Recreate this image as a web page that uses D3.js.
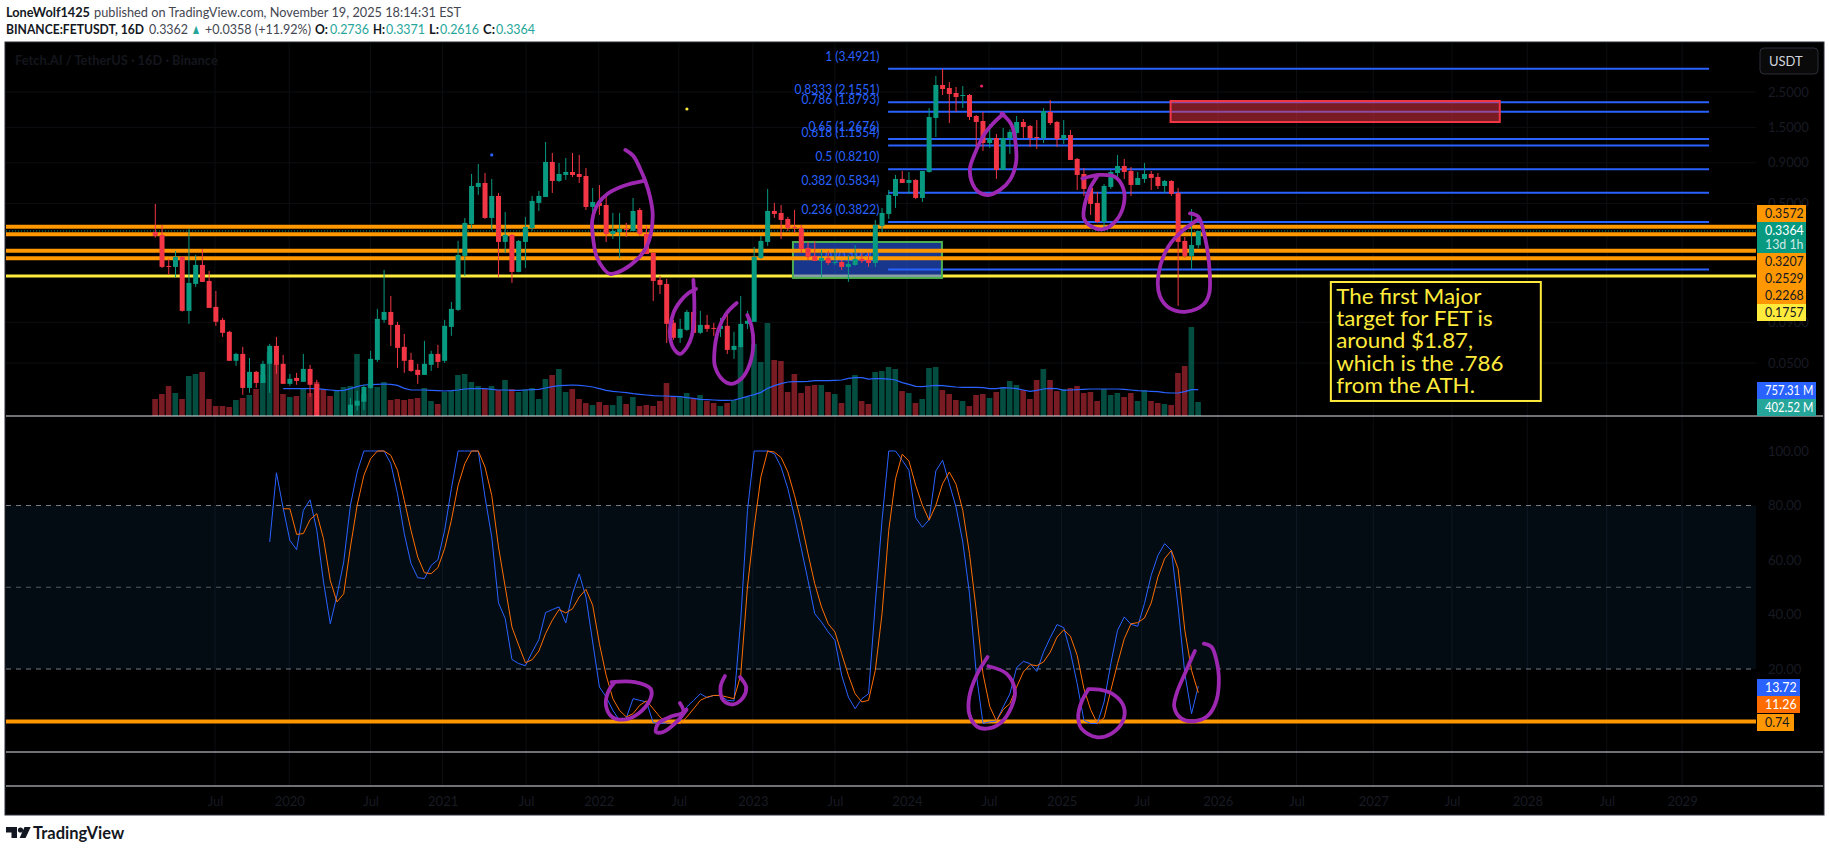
<!DOCTYPE html>
<html>
<head>
<meta charset="utf-8">
<title>FETUSDT 16D</title>
<script src="https://cdn.jsdelivr.net/npm/d3@7"></script>
<style>
  html, body { margin: 0; padding: 0; background: #fff; overflow: hidden; }
  svg { display: block; font-family: Lato, "Open Sans", sans-serif; }
</style>
</head>
<body>
<div id="chart"></div>
<script>
// candles, one row per ten bars
const opens = [
  .3316,.3176,.2030,.2001,.2312,.1061,.1566,.2060,.1635,.1124,
  .0932,.0784,.0516,.0570,.0349,.0440,.0375,.0494,.0640,.0494,
  .0370,.0403,.0381,.0459,.0370,.0228,.0205,.0160,.0175,.0215,
  .0270,.0286,.0349,.0523,.0932,.1045,.0867,.0631,.0523,.0453,
  .0421,.0487,.0570,.0516,.0842,.1076,.2346,.3722,.6348,.6726,
  .4059,.5575,.2871,.3176,.1862,.2871,.3513,.5040,.5495,.9106,
  .6923,.7548,.7882,.7657,.7440,.4757,.5040,.4896,.3221,.3316,
  .3463,.3364,.4555,.3221,.2450,.1659,.1566,.0893,.0719,.0807,
  .1045,.0773,.0867,.0830,.0818,.0855,.0604,.0631,.0880,.0906,
  .2279,.2871,.4490,.4362,.4000,.3564,.3513,.2633,.2346,.2182,
  .2279,.2120,.2151,.2001,.2060,.2246,.2214,.2120,.3616,.4299,
  .5575,.7125,.6726,.7023,.5417,.7882,1.718,2.765,2.648,2.464,
  2.359,2.394,1.768,1.645,1.198,1.287,.8114,1.287,1.384,1.622,
  1.531,1.306,1.287,1.873,1.622,1.269,1.344,.9508,.7657,.6257,
  .5040,.3831,.6348,.7769,.8595,.7997,.6534,.7125,.7657,.7334,
  .6441,.6923,.5822,.2913,.2346,.2736];
const highs = [
  .4967,.3669,.2246,.2521,.2340,.3463,.2380,.2595,.1889,.1415,
  .0959,.0795,.0579,.0631,.0538,.0446,.0516,.0659,.0729,.0562,
  .0427,.0434,.0570,.0487,.0392,.0229,.0215,.0190,.0222,.0302,
  .0334,.0365,.0596,.1092,.1916,.1317,.0906,.0761,.0579,.0494,
  .0688,.0596,.0649,.0932,.1208,.2913,.4059,.7657,.8846,.7769,
  .7125,.5822,.4425,.3221,.2955,.4118,.5575,.5992,1.215,1.037,
  .8976,.9646,1.037,1.008,.8351,.6257,.6534,.5495,.4362,.4362,
  .3776,.5417,.4689,.3616,.2486,.1757,.1683,.0932,.0945,.1076,
  .1243,.1061,.1001,.0893,.0959,.1030,.0784,.1317,.1061,.2671,
  .3130,.6168,.5040,.4896,.4118,.4555,.3669,.2871,.2913,.2558,
  .2521,.2595,.2214,.2380,.2749,.2450,.2450,.3943,.4689,.6079,
  .7548,.7997,.7882,.7100,.8000,1.984,3.148,3.4921,2.888,2.686,
  2.726,2.428,1.794,1.873,1.575,1.364,1.487,1.459,1.768,1.693,
  1.553,1.669,1.984,2.227,1.645,1.669,1.447,.9646,.8351,.6629,
  .5906,.6629,.8114,1.008,.9508,.8471,.7882,.8976,.7997,.7769,
  .7023,.7000,.6257,.3085,.4621,.3371];
const lows = [
  .3056,.1973,.1783,.1716,.1050,.0880,.1500,.1612,.1108,.0855,
  .0729,.0516,.0480,.0316,.0325,.0349,.0375,.0325,.0427,.0370,
  .0360,.0365,.0381,.0307,.0215,.0180,.0140,.0120,.0165,.0200,
  .0251,.0254,.0344,.0508,.0893,.0640,.0466,.0434,.0440,.0370,
  .0421,.0446,.0466,.0501,.0740,.1061,.1757,.3513,.5656,.4000,
  .3413,.1732,.2450,.1589,.1850,.1973,.3364,.4490,.5480,.5822,
  .6824,.7023,.7334,.6726,.4555,.4299,.4238,.2871,.2997,.2279,
  .3085,.3364,.3130,.2414,.1225,.1355,.0667,.0698,.0668,.0795,
  .0761,.0761,.0784,.0740,.0729,.0570,.0531,.0622,.0818,.0906,
  .2246,.2710,.4059,.2997,.3364,.3269,.2450,.2214,.2182,.1732,
  .2060,.2060,.1916,.1612,.2030,.2120,.2001,.2001,.3316,.4000,
  .4689,.6726,.5738,.5339,.5113,.7800,1.306,2.394,1.598,1.873,
  1.984,1.669,1.115,1.068,1.115,.7125,.8114,1.023,1.250,1.287,
  1.131,1.099,1.198,1.553,1.131,1.181,.9372,.6079,.5575,.4238,
  .3776,.3463,.6168,.7023,.7125,.5575,.6534,.6726,.6079,.6168,
  .5822,.5575,.1140,.2279,.1944,.2616];
const closes = [
  .3130,.2001,.2001,.2312,.1061,.1589,.2060,.1612,.1108,.0906,
  .0773,.0516,.0570,.0349,.0440,.0375,.0494,.0640,.0487,.0370,
  .0398,.0386,.0459,.0365,.0230,.0205,.0160,.0175,.0210,.0274,
  .0290,.0354,.0531,.0945,.1045,.0867,.0622,.0516,.0446,.0421,
  .0494,.0570,.0508,.0855,.1092,.2380,.3776,.6441,.6726,.4059,
  .5575,.2871,.3176,.1862,.2913,.3564,.5187,.5575,.9106,.6923,
  .7657,.7882,.7548,.7334,.4757,.5113,.4826,.3221,.3364,.3463,
  .3413,.4490,.3221,.2414,.1635,.1544,.0880,.0719,.0818,.1045,
  .0773,.0867,.0818,.0818,.0855,.0604,.0640,.0880,.0919,.2312,
  .2913,.4490,.4299,.3943,.3513,.3513,.2595,.2312,.2182,.2279,
  .2120,.2151,.2001,.2090,.2246,.2182,.2120,.3669,.4362,.5656,
  .7125,.6726,.7023,.5417,.7997,1.743,2.765,2.610,2.428,2.326,
  2.394,1.743,1.622,1.198,1.287,.8114,1.287,1.404,1.622,1.509,
  1.287,1.287,1.900,1.598,1.269,1.344,.9372,.7548,.6168,.4967,
  .3831,.6441,.7882,.8595,.7882,.6534,.7229,.7657,.7229,.6441,
  .6923,.5738,.2871,.2346,.2749,.3364];

// volume in millions
const volumes = [
  489,632,862,661,489,1150,1207,1265,489,287,
  287,259,460,517,604,776,1178,1839,1494,632,
  546,575,776,661,977,776,575,747,833,862,
  1782,632,948,833,977,460,489,460,489,517,
  805,431,345,690,718,1178,1207,977,862,776,
  862,747,1035,776,690,766,805,489,1063,1178,
  1351,690,776,489,374,316,402,316,316,575,
  345,546,287,316,287,431,948,575,546,661,
  517,604,431,374,287,374,460,2012,546,2069,
  1552,2673,1609,1581,690,1207,661,862,891,891,
  690,632,374,891,1178,431,345,1265,1293,1408,
  1351,718,661,374,489,1380,1408,747,632,460,
  431,287,604,632,517,690,833,1006,891,747,
  489,1035,1351,1035,718,776,805,862,661,690,
  431,776,604,661,546,661,431,747,431,374,
  345,316,1236,1437,2558,402.52];
// volume average starts at bar 19
const volumeMAStart = 19;
const volumeMA = [
  786,786,786,786,786,786,766,747,728,738,786,843,891,901,910,920,910,881,795,747,
  747,747,738,728,719,728,747,776,786,786,786,766,747,747,738,738,747,757,766,805,
  843,872,881,891,881,862,833,786,738,709,690,671,642,623,604,584,575,575,565,556,
  527,508,479,469,460,450,450,460,508,565,613,680,795,872,929,977,987,987,996,1015,
  1015,1015,1025,1035,1083,1102,1102,1063,1073,1073,1063,1035,958,910,853,843,862,881,872,853,
  833,824,824,824,814,786,786,814,805,786,747,709,738,776,795,786,738,747,757,766,
  776,776,776,776,776,766,747,728,719,709,699,671,661,661,699,757,757.31];

// stochastic RSI, %K starts at bar 17, %D at bar 19
const stochKStart = 17;
const stochK = [
  66.6,92.0,79.1,67.2,63.8,78.2,82.1,70.9,51.9,36.6,47.0,59.3,80.1,92.3,100,100,100,100,
  95.4,84.3,69.7,58.7,53.5,53.2,58.0,60.1,70.9,86.2,100,100,100,100,83.1,68.4,44.3,38.5,
  23.5,22.0,21.2,26.2,30.8,40.7,41.8,42.8,36.9,47.6,54.9,46.4,29.9,13.4,9.7,4.8,1.1,2.1,
  9.1,8.5,7.9,0.3,0,0.2,0,0.9,6.1,8.5,10.9,9.5,10.3,10.3,8.5,8.3,37.9,78.2,100,100,100,
  99.0,94.1,86.2,75.8,64.2,52.5,40.3,37.2,33.6,30.5,17.7,9.7,5.4,9.1,10.9,44.0,74.6,100,100,
  96.6,92.9,75.5,72.0,74.8,92.7,96.6,88.0,79.4,66.6,47.6,18.3,0,0.6,0.9,6.1,10.9,20.5,
  22.8,22.0,19.1,26.2,31.5,36.3,35.2,26.2,14.6,1.2,0,0,7.9,22.0,34.2,39.1,36.4,35.7,
  44.0,54.4,61.7,66.0,63.5,42.8,18.3,3.6,13.72];
const stochDStart = 19;
const stochD = [
  78.8,78.8,69.4,69.7,74.8,77.0,67.8,52.5,44.6,47.6,64.8,80.1,91.1,97.2,100,100,
  98.4,92.9,81.9,70.9,61.1,55.3,55.0,57.2,64.2,74.6,87.4,95.4,100,100,94.1,83.7,64.8,50.1,
  35.4,28.7,22.3,23.4,26.6,33.0,37.9,41.8,40.6,42.1,46.4,49.2,43.4,29.3,17.7,9.1,4.8,2.4,
  3.6,6.7,8.3,5.4,2.4,0.2,0,0,2.4,5.4,8.5,9.7,10.3,10.3,9.7,9.1,17.7,50.1,72.1,90.5,100,
  99.6,97.6,92.3,83.7,73.9,62.3,51.3,42.8,36.6,33.6,25.6,17.7,10.9,7.9,8.5,19.5,40.3,70.9,89.8,
  98.8,96.3,87.4,80.1,74.6,80.1,88.0,92.3,87.8,78.2,62.3,41.5,18.3,6.3,0.9,5.1,7.3,13.4,
  18.9,21.6,21.2,22.6,26.2,31.7,34.4,32.0,25.0,12.8,5.1,0,2.1,12.2,22.0,31.1,36.6,37.0,
  38.7,44.2,53.8,60.5,63.5,56.8,34.2,19.5,11.26];

// axis ticks, positions given as bar numbers
const timeTickBars = [8.87,19.9,32,42.7,55.1,65.9,77.8,88.8,101,111.7,123.9,134.7,146.6,157.9,169.6,181,192.7,203.9,215.7,226.9];
const timeTickLabels = ["Jul","2020","Jul","2021","Jul","2022","Jul","2023","Jul","2024","Jul","2025","Jul","2026","Jul","2027","Jul","2028","Jul","2029"];
const priceTicks = [2.5,1.5,0.9,0.5,0.09,0.05];
const stochTicks = [100,80,60,40,20];

// drawn levels
const fibLevels = ["1","0.8333","0.786","0.65","0.618","0.5","0.382","0.236","0"];
const fibPrices = [3.4921,2.1551,1.8793,1.2676,1.1554,0.8210,0.5834,0.3822,0.1930];
const orangeLevels = [0.3572,0.3207,0.2529,0.2268];
const yellowLevel = 0.1757;
const lastPrice = 0.3364;
const stochLevel = 0.74;

// hand drawn strokes: [bar, price]
const priceStrokes = [
  [[69.85,1.083],[71.04,.993],[72.03,.829],[72.77,.702],[73.51,.553],[73.91,.434],[73.66,.325],[73.02,.268],[71.78,.227],[69.55,.192],[67.57,.181],[66.58,.196],[65.59,.232],[65.09,.2955],[64.94,.394],[65.84,.501],[67.32,.579],[69.55,.644],[72.77,.695]],
  [[79.96,.166],[80.1,.1026],[79.7,.0732],[79.0,.0628],[78.0,.0570],[77.2,.0602],[76.5,.0732],[77.0,.1026],[78.0,.1215],[79.2,.1369],[80.35,.1457]],
  [[86.4,.1188],[84.9,.1026],[83.67,.0807],[83.08,.0576],[83.18,.0475],[84.41,.0389],[85.65,.0370],[87.14,.0400],[88.38,.0498],[88.87,.0665],[88.62,.0846],[87.98,.1001]],
  [[125.77,1.837],[127.26,1.553],[127.9,1.136],[127.9,.893],[127.0,.702],[125.53,.608],[123.79,.565],[122.31,.593],[121.32,.686],[121.07,.832],[121.81,1.032],[123.3,1.377],[124.78,1.63],[126.02,1.82]],
  [[137.76,.717],[140.39,.755],[142.62,.735],[143.85,.622],[143.95,.50],[142.86,.394],[140.88,.345],[139.15,.358],[138.0,.404],[138.16,.50],[138.9,.622],[140.14,.755]],
  [[153.76,.434],[154.99,.414],[155.99,.307],[156.63,.201],[156.63,.137],[155.74,.116],[153.26,.105],[150.79,.110],[149.3,.131],[149.05,.175],[150.54,.268],[152.77,.34],[154.99,.398]]
];
// hand drawn strokes on the oscillator: [bar, value]
const stochStrokes = [
  [[67.8,15.2],[71.27,15.2],[73.6,12.8],[73.6,9.1],[71.77,3.6],[69.54,1.4],[67.8,2.6],[66.97,6.7],[67.3,11.6],[68.3,15.2]],
  [[77.96,7.5],[78.45,4.2],[76.47,2.4],[74.74,0],[74.4,-3.1],[75.48,-3.1],[77.47,0.6],[78.95,5.1]],
  [[84.65,17.4],[84.0,13.4],[84.4,8.5],[85.9,7.0],[87.4,9.7],[87.8,13.4],[86.9,17.1]],
  [[123.68,24.4],[122.05,17.7],[120.96,9.7],[120.96,3.6],[122.05,-1.0],[123.53,-1.9],[125.51,0],[127.24,6.1],[127.74,12.2],[126.5,18.3],[123.8,21.0]],
  [[138.63,12.4],[137.64,7.9],[137.15,2.4],[137.64,-1.9],[139.87,-5.0],[142.1,-3.7],[143.84,1.2],[143.93,6.1],[142.6,10.3],[140.36,12.4],[138.63,12.6]],
  [[154.49,26.6],[153.0,18.3],[151.77,10.9],[151.42,6.1],[152.51,1.8],[154.49,0.9],[156.47,3.0],[157.7,8.5],[158.05,17.1],[157.7,23.2],[156.96,28.1],[155.82,29.3]]
];
const dots = [
  {bar: 79.0, price: 1.956, color: "#ffeb3b"},
  {bar: 50.0, price: 1.0076, color: "#2962ff"},
  {bar: 122.8, price: 2.726, color: "#e91e63"}
];
const noteLines = ["The first Major","target for FET is","around $1.87,","which is the .786","from the ATH."];

const W = 1829, H = 851;
const green = "#089981", red = "#f23645", fibBlue = "#2962ff", orange = "#ff9800", yellow = "#ffeb3b", purple = "#9c27b0", axisText = "#181a23";
const ink = "#131722", grey = "#434651", teal = "#26a69a";
const paneLeft = 6, plotRight = 1756, paneRight = 1823, paneTop = 43, paneBottom = 814, priceBottom = 416, stochBottom = 752, timeTop = 786;

const x = d3.scaleLinear().domain([0, 155]).range([155.3, 1198.3]);
const yPrice = d3.scaleLog().domain([0.05, 2.5]).range([363, 92]);
const yVol = d3.scaleLinear().domain([0, 2875]).range([priceBottom, priceBottom - 100]);
const yStoch = d3.scaleLinear().domain([20, 100]).range([669, 451]);

const svg = d3.select("#chart").append("svg").attr("width", W).attr("height", H);
const defs = svg.append("defs");
defs.append("clipPath").attr("id", "pricePane").append("rect")
  .attr("x", paneLeft).attr("y", paneTop).attr("width", plotRight - paneLeft).attr("height", priceBottom - paneTop);
defs.append("clipPath").attr("id", "stochPane").append("rect")
  .attr("x", paneLeft).attr("y", priceBottom).attr("width", plotRight - paneLeft).attr("height", stochBottom - priceBottom);

// the fonts here are wider than the original one, squeeze text to its measured width
const squeeze = (sel, k) => sel.each(function () {
  d3.select(this).attr("textLength", this.getComputedTextLength() * k).attr("lengthAdjust", "spacingAndGlyphs");
});

// header, each piece placed on its own: text, x, width, baseline, bold, colour
const headerParts = [
  ["LoneWolf1425", 6, 84, 17, true, ink],
  ["published on TradingView.com, November 19, 2025 18:14:31 EST", 94, 367, 17, false, grey],
  ["BINANCE:FETUSDT, 16D", 6, 138, 34, true, ink],
  ["0.3362", 149, 39, 34, false, grey],
  ["▲", 191, 10, 34, false, teal],
  ["+0.0358 (+11.92%)", 205, 106, 34, false, grey],
  ["O:", 315, 13, 34, true, ink],
  ["0.2736", 330, 39, 34, false, teal],
  ["H:", 373, 12, 34, true, ink],
  ["0.3371", 386, 39, 34, false, teal],
  ["L:", 429, 10, 34, true, ink],
  ["0.2616", 440, 39, 34, false, teal],
  ["C:", 483, 12, 34, true, ink],
  ["0.3364", 496, 39, 34, false, teal]
];
svg.append("g").selectAll("text").data(headerParts).enter().append("text")
  .attr("x", d => d[1]).attr("y", d => d[3]).attr("font-size", 14)
  .attr("font-weight", d => d[4] ? 700 : 400).attr("fill", d => d[5])
  .attr("textLength", d => d[2]).attr("lengthAdjust", "spacingAndGlyphs").text(d => d[0]);

// chart background
svg.append("rect").attr("x", paneLeft - 1).attr("y", paneTop - 1).attr("width", paneRight - paneLeft + 2).attr("height", paneBottom - paneTop + 2)
  .attr("fill", "#000").attr("stroke", "#2a2e39");

// faint grid
const grid = svg.append("g").attr("stroke", "#0d0e12");
grid.selectAll(".v").data(timeTickBars).enter().append("line").attr("class", "v")
  .attr("x1", d => x(d)).attr("x2", d => x(d)).attr("y1", paneTop).attr("y2", timeTop);
grid.selectAll(".p").data(priceTicks).enter().append("line").attr("class", "p")
  .attr("x1", paneLeft).attr("x2", plotRight).attr("y1", d => yPrice(d)).attr("y2", d => yPrice(d));

// watermark
svg.append("text").attr("x", 15).attr("y", 65).attr("font-size", 14).attr("font-weight", 700).attr("fill", "#14161d")
  .text("Fetch.AI / TetherUS · 16D · Binance").call(squeeze, 0.92);

// price pane
const price = svg.append("g").attr("clip-path", "url(#pricePane)");

price.selectAll(".vol").data(volumes).enter().append("rect").attr("class", "vol")
  .attr("x", (d, i) => x(i) - 3).attr("width", 5.6)
  .attr("y", d => yVol(d)).attr("height", d => yVol(0) - yVol(d))
  .attr("fill", (d, i) => closes[i] >= opens[i] ? green : red).attr("opacity", 0.5);

price.append("path").datum(volumeMA)
  .attr("fill", "none").attr("stroke", fibBlue).attr("stroke-width", 1.2)
  .attr("d", d3.line().x((d, i) => x(i + volumeMAStart)).y(d => yVol(d)));

const hLine = (g, y1, color, width, x2) => g.append("line")
  .attr("x1", paneLeft).attr("x2", x2 || plotRight).attr("y1", y1).attr("y2", y1)
  .attr("stroke", color).attr("stroke-width", width);

hLine(price, yPrice(yellowLevel), yellow, 3);

// fib lines and labels
price.selectAll(".fib").data(fibPrices).enter().append("line").attr("class", "fib")
  .attr("x1", x(108.9)).attr("x2", x(230.9))
  .attr("y1", d => yPrice(d)).attr("y2", d => yPrice(d))
  .attr("stroke", fibBlue).attr("stroke-width", 2);
price.selectAll(".fibLabel").data(fibPrices).enter().append("text").attr("class", "fibLabel")
  .attr("x", x(107.6)).attr("y", d => yPrice(d) - 8)
  .attr("text-anchor", "end").attr("font-size", 13.8).attr("fill", fibBlue)
  .text((d, i) => `${fibLevels[i]} (${d.toFixed(4)})`).call(squeeze, 0.87);

// boxes
price.append("rect")
  .attr("x", x(94.76)).attr("width", x(116.9) - x(94.76))
  .attr("y", yPrice(0.2868)).attr("height", yPrice(0.1707) - yPrice(0.2868))
  .attr("fill", "#2962ff").attr("fill-opacity", 0.55).attr("stroke", "#4caf50").attr("stroke-width", 2);
price.append("rect")
  .attr("x", x(150.88)).attr("width", x(199.8) - x(150.88))
  .attr("y", yPrice(2.195)).attr("height", yPrice(1.621) - yPrice(2.195))
  .attr("fill", "#f23645").attr("fill-opacity", 0.5).attr("stroke", red).attr("stroke-width", 2);

orangeLevels.forEach(p => hLine(price, yPrice(p), orange, 4));
hLine(price, yPrice(lastPrice), green, 1).attr("stroke-dasharray", "1 2");

// candles
price.selectAll(".wick").data(highs).enter().append("line").attr("class", "wick")
  .attr("x1", (d, i) => x(i)).attr("x2", (d, i) => x(i))
  .attr("y1", d => yPrice(d)).attr("y2", (d, i) => yPrice(lows[i]))
  .attr("stroke", (d, i) => closes[i] >= opens[i] ? green : red);
price.selectAll(".body").data(opens).enter().append("rect").attr("class", "body")
  .attr("x", (d, i) => x(i) - 2.5).attr("width", 5)
  .attr("y", (d, i) => yPrice(Math.max(d, closes[i])))
  .attr("height", (d, i) => Math.max(1, Math.abs(yPrice(d) - yPrice(closes[i]))))
  .attr("fill", (d, i) => closes[i] >= d ? green : red);

// note box
const noteBox = svg.append("g");
noteBox.append("rect").attr("x", x(174.7)).attr("y", yPrice(0.161)).attr("width", x(205.9) - x(174.7)).attr("height", yPrice(0.0289) - yPrice(0.161))
  .attr("fill", "#000").attr("stroke", yellow).attr("stroke-width", 2);
noteBox.selectAll("text").data(noteLines).enter().append("text")
  .attr("x", x(175.5)).attr("y", (d, i) => yPrice(0.161) + 22 + i * 22.2)
  .attr("font-size", 21).attr("fill", yellow).text(d => d).call(squeeze, 1.065);

// oscillator pane
const stoch = svg.append("g").attr("clip-path", "url(#stochPane)");
stoch.append("rect").attr("x", paneLeft).attr("width", plotRight - paneLeft)
  .attr("y", yStoch(80)).attr("height", yStoch(20) - yStoch(80)).attr("fill", "#2196f3").attr("fill-opacity", 0.08);
[[80, "#787b86"], [50, "#55585f"], [20, "#787b86"]].forEach(([v, c]) => {
  hLine(stoch, yStoch(v), c, 1).attr("stroke-dasharray", "5 5");
});
hLine(stoch, yStoch(stochLevel), orange, 4);
const stochLine = start => d3.line().x((d, i) => x(i + start)).y(d => yStoch(d));
stoch.append("path").datum(stochK).attr("fill", "none").attr("stroke", fibBlue).attr("stroke-width", 1).attr("d", stochLine(stochKStart));
stoch.append("path").datum(stochD).attr("fill", "none").attr("stroke", "#ff6d00").attr("stroke-width", 1).attr("d", stochLine(stochDStart));

// pen strokes
const penPrice = d3.line().x(d => x(d[0])).y(d => yPrice(d[1])).curve(d3.curveCatmullRom.alpha(0.5));
const penStoch = d3.line().x(d => x(d[0])).y(d => yStoch(d[1])).curve(d3.curveCatmullRom.alpha(0.5));
svg.selectAll(".penP").data(priceStrokes).enter().append("path").attr("class", "penP")
  .attr("d", penPrice).attr("fill", "none").attr("stroke", purple).attr("stroke-width", 3.8).attr("stroke-linecap", "round").attr("stroke-linejoin", "round");
svg.selectAll(".penS").data(stochStrokes).enter().append("path").attr("class", "penS")
  .attr("d", penStoch).attr("fill", "none").attr("stroke", purple).attr("stroke-width", 3.8).attr("stroke-linecap", "round").attr("stroke-linejoin", "round");
svg.selectAll(".dot").data(dots).enter().append("circle").attr("class", "dot")
  .attr("cx", d => x(d.bar)).attr("cy", d => yPrice(d.price)).attr("r", 1.6).attr("fill", d => d.color);

// pane separators
[priceBottom, stochBottom, timeTop].forEach(y1 => {
  svg.append("line").attr("x1", paneLeft).attr("x2", paneRight).attr("y1", y1).attr("y2", y1).attr("stroke", "#e0e3eb");
});

// axes
const styleAxis = g => {
  g.select(".domain").remove();
  g.selectAll(".tick line").remove();
  g.selectAll("text").attr("fill", axisText).attr("font-size", 13).attr("font-family", 'Lato, sans-serif');
};
svg.append("g").attr("transform", `translate(${plotRight + 9},0)`)
  .call(d3.axisRight(yPrice).tickValues(priceTicks).tickFormat(d3.format(".4f")).tickSize(0)).call(styleAxis);
svg.append("g").attr("transform", `translate(${plotRight + 9},0)`)
  .call(d3.axisRight(yStoch).tickValues(stochTicks).tickFormat(d3.format(".2f")).tickSize(0)).call(styleAxis);
svg.append("g").attr("transform", `translate(0,${timeTop + 8})`)
  .call(d3.axisBottom(x).tickValues(timeTickBars).tickFormat((d, i) => timeTickLabels[i]).tickSize(0)).call(styleAxis);

// value labels on the right
const tag = (yVal, text, bg, fg, w, k) => {
  const g = svg.append("g");
  g.append("rect").attr("x", plotRight + 1).attr("y", yVal - 8.5).attr("width", w || 49).attr("height", 17).attr("fill", bg);
  g.append("text").attr("x", plotRight + 9).attr("y", yVal + 4.5).attr("font-size", 13).attr("fill", fg).text(text).call(squeeze, k || 0.95);
  return g;
};
// stacked so they do not overlap, same as the platform does it
const tagY = [213.5, 230.5, 261.5, 278.5, 295.5, 312.5];
tag(tagY[0], "0.3572", orange, ink);
tag(tagY[1], "0.3364", green, "#fff");
tag(tagY[1] + 14, "13d 1h", green, "#cfe9e4");
tag(tagY[2], "0.3207", orange, ink);
tag(tagY[3], "0.2529", orange, ink);
tag(tagY[4], "0.2268", orange, ink);
tag(tagY[5], "0.1757", yellow, ink);
tag(390.5, "757.31 M", fibBlue, "#fff", 59, 0.86);
tag(407.5, "402.52 M", teal, "#fff", 59, 0.86);
tag(687.5, "13.72", fibBlue, "#fff", 43);
tag(704.5, "11.26", "#ff6d00", "#fff", 43);
tag(722.5, "0.74", orange, ink, 37);

// currency button
svg.append("rect").attr("x", 1760).attr("y", 48).attr("width", 58).attr("height", 26).attr("rx", 4)
  .attr("fill", "#0a0a0a").attr("stroke", "#2a2e39");
svg.append("text").attr("x", 1769).attr("y", 65.5).attr("font-size", 13).attr("fill", "#d1d4dc").text("USDT");

// logo
const logo = svg.append("g").attr("fill", ink);
logo.append("path").attr("d", "M6 827h11v11h-5.5v-5.5H6z");
logo.append("circle").attr("cx", 20.5).attr("cy", 830).attr("r", 2.6);
logo.append("path").attr("d", "M24.5 827h6.2L25.6 838h-6z");
logo.append("text").attr("x", 33).attr("y", 838.5).attr("font-size", 16.5).attr("font-weight", 700).text("TradingView");
</script>
</body>
</html>
